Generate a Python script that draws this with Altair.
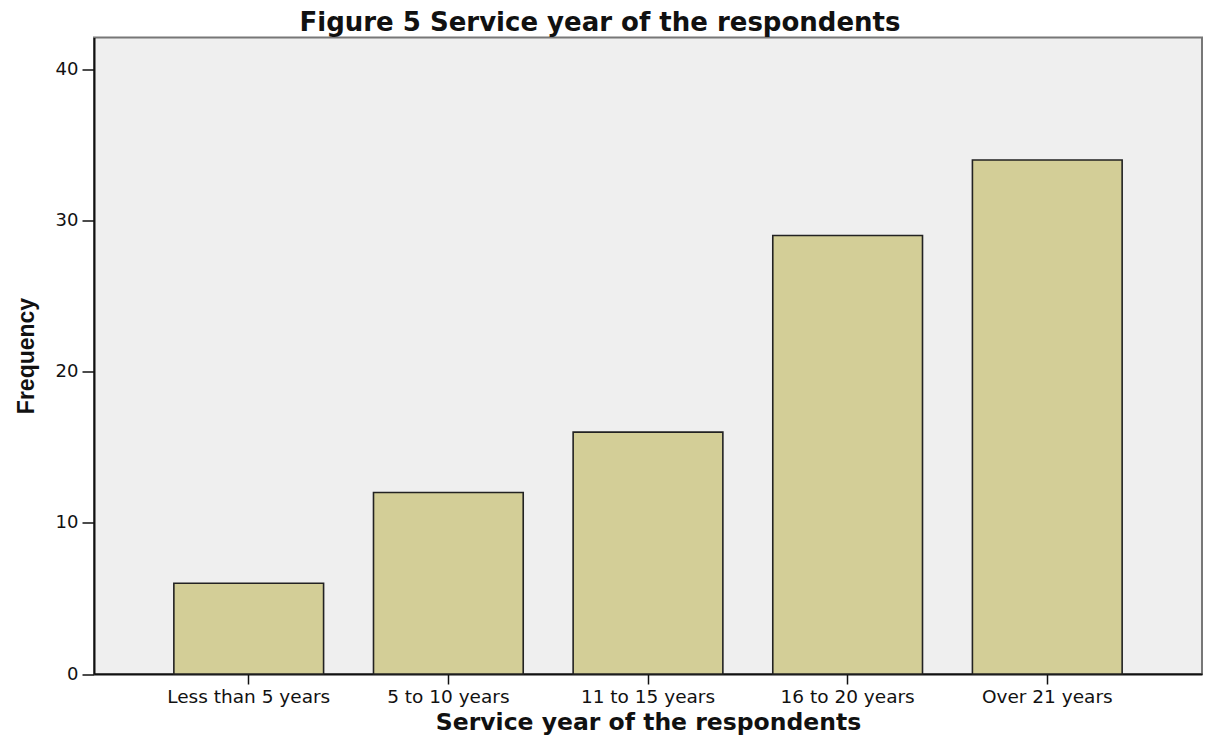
import altair as alt
import pandas as pd

categories = ["Less than 5 years", "5 to 10 years", "11 to 15 years", "16 to 20 years", "Over 21 years"]
frequency = [6, 12, 16, 29, 34]
y_ticks = [0, 10, 20, 30, 40]

df = pd.DataFrame({"category": categories, "frequency": frequency})

chart = alt.Chart(df).mark_bar(
    fill="#D3CE97", stroke="#222222", strokeWidth=1.6
).encode(
    x=alt.X(
        "category:N", sort=categories,
        scale=alt.Scale(paddingInner=0.25, paddingOuter=0.4),
        axis=alt.Axis(
            title="Service year of the respondents", labelAngle=0,
            labelFont="DejaVu Sans", labelFontSize=18.5, labelColor="#111111",
            labelPadding=3, tickSize=10, tickWidth=1.5, tickColor="#111111",
            domainColor="#111111", domainWidth=2,
            titleFont="DejaVu Sans", titleFontSize=23.5, titleFontWeight="bold",
            titleColor="#111111", titleBaseline="alphabetic", titleY=55.5,
        ),
    ),
    y=alt.Y(
        "frequency:Q",
        scale=alt.Scale(domain=[0, 42.1], nice=False, zero=True),
        axis=alt.Axis(
            title="Frequency", values=y_ticks, grid=False,
            labelFont="DejaVu Sans", labelFontSize=18, labelColor="#111111",
            labelPadding=4, tickSize=12, tickWidth=1.5, tickColor="#111111",
            domainColor="#111111", domainWidth=2,
            titleFont="Liberation Sans", titleFontSize=23, titleFontWeight="bold",
            titleColor="#111111", titleBaseline="alphabetic", titleAngle=-90,
            titleX=-61, titleY=318,
        ),
    ),
).properties(
    width=1108,
    height=636.5,
    title=alt.TitleParams(
        text="Figure 5 Service year of the respondents",
        font="DejaVu Sans", fontSize=26, fontWeight="bold", color="#111111",
        anchor="middle", dx=-48, offset=2,
    ),
    autosize=alt.AutoSizeParams(type="none"),
    padding={"left": 86, "top": 29.5, "right": 1, "bottom": 62},
).configure_view(
    fill="#EFEFEF", stroke="#777777", strokeWidth=2
)

chart.save("out.html", embed_options={"renderer": "svg", "actions": False})
